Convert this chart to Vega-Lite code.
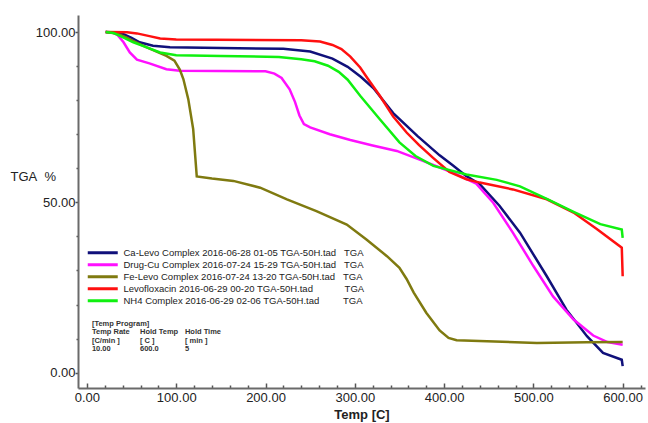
{
  "$schema": "https://vega.github.io/schema/vega-lite/v6.json",
  "width": 567,
  "height": 373,
  "autosize": {"type": "none"},
  "padding": {"left": 78, "top": 15, "right": 3, "bottom": 35},
  "background": "white",
  "config": {
    "font": "Liberation Sans",
    "view": {"stroke": null},
    "axis": {"grid": false, "domainColor": "#6a6a6a", "domainWidth": 2, "tickColor": "#555", "labelColor": "#222", "titleColor": "#222", "labelFont": "Liberation Sans", "titleFont": "Liberation Sans", "labelOverlap": false, "labelFlush": false}
  },
  "datasets": {
    "curves": [
      {"s": "Ca-Levo Complex 2016-06-28 01-05 TGA-50H.tad", "T": 21, "w": 100},
      {"s": "Ca-Levo Complex 2016-06-28 01-05 TGA-50H.tad", "T": 32, "w": 99.9},
      {"s": "Ca-Levo Complex 2016-06-28 01-05 TGA-50H.tad", "T": 41, "w": 99.4},
      {"s": "Ca-Levo Complex 2016-06-28 01-05 TGA-50H.tad", "T": 50, "w": 98.3},
      {"s": "Ca-Levo Complex 2016-06-28 01-05 TGA-50H.tad", "T": 59, "w": 97},
      {"s": "Ca-Levo Complex 2016-06-28 01-05 TGA-50H.tad", "T": 74, "w": 96},
      {"s": "Ca-Levo Complex 2016-06-28 01-05 TGA-50H.tad", "T": 93, "w": 95.5},
      {"s": "Ca-Levo Complex 2016-06-28 01-05 TGA-50H.tad", "T": 150, "w": 95.3},
      {"s": "Ca-Levo Complex 2016-06-28 01-05 TGA-50H.tad", "T": 220, "w": 95.1},
      {"s": "Ca-Levo Complex 2016-06-28 01-05 TGA-50H.tad", "T": 250, "w": 94.3},
      {"s": "Ca-Levo Complex 2016-06-28 01-05 TGA-50H.tad", "T": 275, "w": 92.2},
      {"s": "Ca-Levo Complex 2016-06-28 01-05 TGA-50H.tad", "T": 292, "w": 89.8},
      {"s": "Ca-Levo Complex 2016-06-28 01-05 TGA-50H.tad", "T": 307, "w": 86.8},
      {"s": "Ca-Levo Complex 2016-06-28 01-05 TGA-50H.tad", "T": 321, "w": 83.5},
      {"s": "Ca-Levo Complex 2016-06-28 01-05 TGA-50H.tad", "T": 343, "w": 76.2},
      {"s": "Ca-Levo Complex 2016-06-28 01-05 TGA-50H.tad", "T": 370, "w": 69.5},
      {"s": "Ca-Levo Complex 2016-06-28 01-05 TGA-50H.tad", "T": 395, "w": 63.8},
      {"s": "Ca-Levo Complex 2016-06-28 01-05 TGA-50H.tad", "T": 410, "w": 60.8},
      {"s": "Ca-Levo Complex 2016-06-28 01-05 TGA-50H.tad", "T": 425, "w": 57.7},
      {"s": "Ca-Levo Complex 2016-06-28 01-05 TGA-50H.tad", "T": 440, "w": 55.3},
      {"s": "Ca-Levo Complex 2016-06-28 01-05 TGA-50H.tad", "T": 462, "w": 49},
      {"s": "Ca-Levo Complex 2016-06-28 01-05 TGA-50H.tad", "T": 485, "w": 41.1},
      {"s": "Ca-Levo Complex 2016-06-28 01-05 TGA-50H.tad", "T": 515, "w": 28.3},
      {"s": "Ca-Levo Complex 2016-06-28 01-05 TGA-50H.tad", "T": 537, "w": 18.5},
      {"s": "Ca-Levo Complex 2016-06-28 01-05 TGA-50H.tad", "T": 560, "w": 10.7},
      {"s": "Ca-Levo Complex 2016-06-28 01-05 TGA-50H.tad", "T": 578, "w": 5.8},
      {"s": "Ca-Levo Complex 2016-06-28 01-05 TGA-50H.tad", "T": 599, "w": 3.8},
      {"s": "Ca-Levo Complex 2016-06-28 01-05 TGA-50H.tad", "T": 600, "w": 1.9},

      {"s": "Drug-Cu Complex 2016-07-24 15-29 TGA-50H.tad", "T": 21, "w": 100},
      {"s": "Drug-Cu Complex 2016-07-24 15-29 TGA-50H.tad", "T": 29, "w": 99.8},
      {"s": "Drug-Cu Complex 2016-07-24 15-29 TGA-50H.tad", "T": 34, "w": 99.2},
      {"s": "Drug-Cu Complex 2016-07-24 15-29 TGA-50H.tad", "T": 41, "w": 97},
      {"s": "Drug-Cu Complex 2016-07-24 15-29 TGA-50H.tad", "T": 48, "w": 94},
      {"s": "Drug-Cu Complex 2016-07-24 15-29 TGA-50H.tad", "T": 56, "w": 91.9},
      {"s": "Drug-Cu Complex 2016-07-24 15-29 TGA-50H.tad", "T": 70, "w": 90.8},
      {"s": "Drug-Cu Complex 2016-07-24 15-29 TGA-50H.tad", "T": 89, "w": 89.1},
      {"s": "Drug-Cu Complex 2016-07-24 15-29 TGA-50H.tad", "T": 104, "w": 88.6},
      {"s": "Drug-Cu Complex 2016-07-24 15-29 TGA-50H.tad", "T": 200, "w": 88.5},
      {"s": "Drug-Cu Complex 2016-07-24 15-29 TGA-50H.tad", "T": 210, "w": 87.8},
      {"s": "Drug-Cu Complex 2016-07-24 15-29 TGA-50H.tad", "T": 218, "w": 86.5},
      {"s": "Drug-Cu Complex 2016-07-24 15-29 TGA-50H.tad", "T": 227, "w": 83.2},
      {"s": "Drug-Cu Complex 2016-07-24 15-29 TGA-50H.tad", "T": 233, "w": 79.5},
      {"s": "Drug-Cu Complex 2016-07-24 15-29 TGA-50H.tad", "T": 238, "w": 75.5},
      {"s": "Drug-Cu Complex 2016-07-24 15-29 TGA-50H.tad", "T": 243, "w": 73},
      {"s": "Drug-Cu Complex 2016-07-24 15-29 TGA-50H.tad", "T": 250, "w": 72},
      {"s": "Drug-Cu Complex 2016-07-24 15-29 TGA-50H.tad", "T": 272, "w": 70},
      {"s": "Drug-Cu Complex 2016-07-24 15-29 TGA-50H.tad", "T": 295, "w": 68.3},
      {"s": "Drug-Cu Complex 2016-07-24 15-29 TGA-50H.tad", "T": 320, "w": 66.7},
      {"s": "Drug-Cu Complex 2016-07-24 15-29 TGA-50H.tad", "T": 347, "w": 65.1},
      {"s": "Drug-Cu Complex 2016-07-24 15-29 TGA-50H.tad", "T": 377, "w": 62.1},
      {"s": "Drug-Cu Complex 2016-07-24 15-29 TGA-50H.tad", "T": 410, "w": 58.7},
      {"s": "Drug-Cu Complex 2016-07-24 15-29 TGA-50H.tad", "T": 436, "w": 55.5},
      {"s": "Drug-Cu Complex 2016-07-24 15-29 TGA-50H.tad", "T": 455, "w": 49.9},
      {"s": "Drug-Cu Complex 2016-07-24 15-29 TGA-50H.tad", "T": 477, "w": 41.1},
      {"s": "Drug-Cu Complex 2016-07-24 15-29 TGA-50H.tad", "T": 500, "w": 31.3},
      {"s": "Drug-Cu Complex 2016-07-24 15-29 TGA-50H.tad", "T": 522, "w": 22.4},
      {"s": "Drug-Cu Complex 2016-07-24 15-29 TGA-50H.tad", "T": 545, "w": 15.6},
      {"s": "Drug-Cu Complex 2016-07-24 15-29 TGA-50H.tad", "T": 567, "w": 10.9},
      {"s": "Drug-Cu Complex 2016-07-24 15-29 TGA-50H.tad", "T": 583, "w": 9},
      {"s": "Drug-Cu Complex 2016-07-24 15-29 TGA-50H.tad", "T": 600, "w": 8.2},

      {"s": "Fe-Levo Complex 2016-07-24 13-20 TGA-50H.tad", "T": 21, "w": 100},
      {"s": "Fe-Levo Complex 2016-07-24 13-20 TGA-50H.tad", "T": 33, "w": 99.6},
      {"s": "Fe-Levo Complex 2016-07-24 13-20 TGA-50H.tad", "T": 44, "w": 98.4},
      {"s": "Fe-Levo Complex 2016-07-24 13-20 TGA-50H.tad", "T": 55, "w": 97},
      {"s": "Fe-Levo Complex 2016-07-24 13-20 TGA-50H.tad", "T": 67, "w": 95.5},
      {"s": "Fe-Levo Complex 2016-07-24 13-20 TGA-50H.tad", "T": 89, "w": 93},
      {"s": "Fe-Levo Complex 2016-07-24 13-20 TGA-50H.tad", "T": 98, "w": 91.6},
      {"s": "Fe-Levo Complex 2016-07-24 13-20 TGA-50H.tad", "T": 104, "w": 89},
      {"s": "Fe-Levo Complex 2016-07-24 13-20 TGA-50H.tad", "T": 108, "w": 86.2},
      {"s": "Fe-Levo Complex 2016-07-24 13-20 TGA-50H.tad", "T": 113.5, "w": 80.3},
      {"s": "Fe-Levo Complex 2016-07-24 13-20 TGA-50H.tad", "T": 119, "w": 71.5},
      {"s": "Fe-Levo Complex 2016-07-24 13-20 TGA-50H.tad", "T": 123, "w": 57.6},
      {"s": "Fe-Levo Complex 2016-07-24 13-20 TGA-50H.tad", "T": 140, "w": 57},
      {"s": "Fe-Levo Complex 2016-07-24 13-20 TGA-50H.tad", "T": 164, "w": 56.3},
      {"s": "Fe-Levo Complex 2016-07-24 13-20 TGA-50H.tad", "T": 194, "w": 54.3},
      {"s": "Fe-Levo Complex 2016-07-24 13-20 TGA-50H.tad", "T": 224, "w": 50.9},
      {"s": "Fe-Levo Complex 2016-07-24 13-20 TGA-50H.tad", "T": 257, "w": 47.4},
      {"s": "Fe-Levo Complex 2016-07-24 13-20 TGA-50H.tad", "T": 291, "w": 43.5},
      {"s": "Fe-Levo Complex 2016-07-24 13-20 TGA-50H.tad", "T": 313, "w": 39.1},
      {"s": "Fe-Levo Complex 2016-07-24 13-20 TGA-50H.tad", "T": 336, "w": 34.2},
      {"s": "Fe-Levo Complex 2016-07-24 13-20 TGA-50H.tad", "T": 350, "w": 30.8},
      {"s": "Fe-Levo Complex 2016-07-24 13-20 TGA-50H.tad", "T": 358, "w": 27.5},
      {"s": "Fe-Levo Complex 2016-07-24 13-20 TGA-50H.tad", "T": 366, "w": 23.5},
      {"s": "Fe-Levo Complex 2016-07-24 13-20 TGA-50H.tad", "T": 380, "w": 17.6},
      {"s": "Fe-Levo Complex 2016-07-24 13-20 TGA-50H.tad", "T": 395, "w": 12.4},
      {"s": "Fe-Levo Complex 2016-07-24 13-20 TGA-50H.tad", "T": 405, "w": 10.2},
      {"s": "Fe-Levo Complex 2016-07-24 13-20 TGA-50H.tad", "T": 414, "w": 9.5},
      {"s": "Fe-Levo Complex 2016-07-24 13-20 TGA-50H.tad", "T": 448, "w": 9.2},
      {"s": "Fe-Levo Complex 2016-07-24 13-20 TGA-50H.tad", "T": 504, "w": 8.7},
      {"s": "Fe-Levo Complex 2016-07-24 13-20 TGA-50H.tad", "T": 560, "w": 8.9},
      {"s": "Fe-Levo Complex 2016-07-24 13-20 TGA-50H.tad", "T": 600, "w": 9},

      {"s": "Levofloxacin 2016-06-29 00-20 TGA-50H.tad", "T": 21, "w": 100},
      {"s": "Levofloxacin 2016-06-29 00-20 TGA-50H.tad", "T": 45, "w": 99.9},
      {"s": "Levofloxacin 2016-06-29 00-20 TGA-50H.tad", "T": 56, "w": 99.6},
      {"s": "Levofloxacin 2016-06-29 00-20 TGA-50H.tad", "T": 70, "w": 98.8},
      {"s": "Levofloxacin 2016-06-29 00-20 TGA-50H.tad", "T": 82, "w": 98.1},
      {"s": "Levofloxacin 2016-06-29 00-20 TGA-50H.tad", "T": 100, "w": 97.8},
      {"s": "Levofloxacin 2016-06-29 00-20 TGA-50H.tad", "T": 240, "w": 97.6},
      {"s": "Levofloxacin 2016-06-29 00-20 TGA-50H.tad", "T": 261, "w": 97.2},
      {"s": "Levofloxacin 2016-06-29 00-20 TGA-50H.tad", "T": 275, "w": 96.2},
      {"s": "Levofloxacin 2016-06-29 00-20 TGA-50H.tad", "T": 285, "w": 95},
      {"s": "Levofloxacin 2016-06-29 00-20 TGA-50H.tad", "T": 295, "w": 92.8},
      {"s": "Levofloxacin 2016-06-29 00-20 TGA-50H.tad", "T": 306, "w": 89.6},
      {"s": "Levofloxacin 2016-06-29 00-20 TGA-50H.tad", "T": 314, "w": 86.5},
      {"s": "Levofloxacin 2016-06-29 00-20 TGA-50H.tad", "T": 328, "w": 81.3},
      {"s": "Levofloxacin 2016-06-29 00-20 TGA-50H.tad", "T": 343, "w": 75.2},
      {"s": "Levofloxacin 2016-06-29 00-20 TGA-50H.tad", "T": 358, "w": 70.5},
      {"s": "Levofloxacin 2016-06-29 00-20 TGA-50H.tad", "T": 372, "w": 66.8},
      {"s": "Levofloxacin 2016-06-29 00-20 TGA-50H.tad", "T": 388, "w": 63},
      {"s": "Levofloxacin 2016-06-29 00-20 TGA-50H.tad", "T": 406, "w": 58.9},
      {"s": "Levofloxacin 2016-06-29 00-20 TGA-50H.tad", "T": 425, "w": 56.8},
      {"s": "Levofloxacin 2016-06-29 00-20 TGA-50H.tad", "T": 440, "w": 55.8},
      {"s": "Levofloxacin 2016-06-29 00-20 TGA-50H.tad", "T": 477, "w": 53.8},
      {"s": "Levofloxacin 2016-06-29 00-20 TGA-50H.tad", "T": 515, "w": 50.9},
      {"s": "Levofloxacin 2016-06-29 00-20 TGA-50H.tad", "T": 545, "w": 47},
      {"s": "Levofloxacin 2016-06-29 00-20 TGA-50H.tad", "T": 571, "w": 42.2},
      {"s": "Levofloxacin 2016-06-29 00-20 TGA-50H.tad", "T": 599, "w": 36.7},
      {"s": "Levofloxacin 2016-06-29 00-20 TGA-50H.tad", "T": 600, "w": 28.3},

      {"s": "NH4 Complex 2016-06-29 02-06 TGA-50H.tad", "T": 21, "w": 100},
      {"s": "NH4 Complex 2016-06-29 02-06 TGA-50H.tad", "T": 30, "w": 99.7},
      {"s": "NH4 Complex 2016-06-29 02-06 TGA-50H.tad", "T": 37, "w": 98.9},
      {"s": "NH4 Complex 2016-06-29 02-06 TGA-50H.tad", "T": 52, "w": 97},
      {"s": "NH4 Complex 2016-06-29 02-06 TGA-50H.tad", "T": 67, "w": 95.5},
      {"s": "NH4 Complex 2016-06-29 02-06 TGA-50H.tad", "T": 82, "w": 94},
      {"s": "NH4 Complex 2016-06-29 02-06 TGA-50H.tad", "T": 100, "w": 93.2},
      {"s": "NH4 Complex 2016-06-29 02-06 TGA-50H.tad", "T": 150, "w": 93},
      {"s": "NH4 Complex 2016-06-29 02-06 TGA-50H.tad", "T": 215, "w": 92.7},
      {"s": "NH4 Complex 2016-06-29 02-06 TGA-50H.tad", "T": 240, "w": 92},
      {"s": "NH4 Complex 2016-06-29 02-06 TGA-50H.tad", "T": 255, "w": 91.4},
      {"s": "NH4 Complex 2016-06-29 02-06 TGA-50H.tad", "T": 270, "w": 90.1},
      {"s": "NH4 Complex 2016-06-29 02-06 TGA-50H.tad", "T": 282, "w": 88.3},
      {"s": "NH4 Complex 2016-06-29 02-06 TGA-50H.tad", "T": 292, "w": 86},
      {"s": "NH4 Complex 2016-06-29 02-06 TGA-50H.tad", "T": 306, "w": 81.3},
      {"s": "NH4 Complex 2016-06-29 02-06 TGA-50H.tad", "T": 328, "w": 74.4},
      {"s": "NH4 Complex 2016-06-29 02-06 TGA-50H.tad", "T": 350, "w": 67.6},
      {"s": "NH4 Complex 2016-06-29 02-06 TGA-50H.tad", "T": 368, "w": 63.6},
      {"s": "NH4 Complex 2016-06-29 02-06 TGA-50H.tad", "T": 388, "w": 60.7},
      {"s": "NH4 Complex 2016-06-29 02-06 TGA-50H.tad", "T": 425, "w": 58.2},
      {"s": "NH4 Complex 2016-06-29 02-06 TGA-50H.tad", "T": 459, "w": 56.6},
      {"s": "NH4 Complex 2016-06-29 02-06 TGA-50H.tad", "T": 485, "w": 54.7},
      {"s": "NH4 Complex 2016-06-29 02-06 TGA-50H.tad", "T": 515, "w": 51},
      {"s": "NH4 Complex 2016-06-29 02-06 TGA-50H.tad", "T": 545, "w": 47.2},
      {"s": "NH4 Complex 2016-06-29 02-06 TGA-50H.tad", "T": 575, "w": 43.6},
      {"s": "NH4 Complex 2016-06-29 02-06 TGA-50H.tad", "T": 599, "w": 42},
      {"s": "NH4 Complex 2016-06-29 02-06 TGA-50H.tad", "T": 600, "w": 39.6}
    ],
    "notes": [
      {"T": 5.6, "w": 14.4, "txt": "[Temp Program]"},
      {"T": 5.6, "w": 11.9, "txt": "Temp Rate"},
      {"T": 59.4, "w": 11.9, "txt": "Hold Temp"},
      {"T": 109.7, "w": 11.9, "txt": "Hold Time"},
      {"T": 5.6, "w": 9.4, "txt": "[C/min ]"},
      {"T": 59.4, "w": 9.4, "txt": "[ C ]"},
      {"T": 109.7, "w": 9.4, "txt": "[ min ]"},
      {"T": 5.6, "w": 7.0, "txt": "10.00"},
      {"T": 59.4, "w": 7.0, "txt": "600.0"},
      {"T": 109.7, "w": 7.0, "txt": "5"}
    ]
  },
  "encoding": {
    "x": {
      "field": "T", "type": "quantitative",
      "scale": {"domain": [-10, 625], "nice": false, "zero": false},
      "axis": {
        "title": "Temp  [C]", "titleFontSize": 13, "titleFontWeight": "bold", "titlePadding": 2,
        "values": [0, 20, 40, 60, 80, 100, 120, 140, 160, 180, 200, 220, 240, 260, 280, 300, 320, 340, 360, 380, 400, 420, 440, 460, 480, 500, 520, 540, 560, 580, 600, 620],
        "labelExpr": "datum.value % 100 === 0 ? format(datum.value, '.2f') : ''",
        "labelOverlap": false, "labelFlush": false,
        "labelFontSize": 13, "labelPadding": 8,
        "tickSize": {"condition": {"test": "datum.value % 100 === 0", "value": -5}, "value": -3},
        "tickWidth": 1.5
      }
    },
    "y": {
      "field": "w", "type": "quantitative",
      "scale": {"domain": [-4.5, 105], "nice": false, "zero": false},
      "axis": {
        "title": "TGA\u00a0\u00a0%", "titleAngle": 0, "titleAlign": "left", "titleBaseline": "middle",
        "titleX": -68, "titleY": 161, "titleFontSize": 13, "titleFontWeight": "normal",
        "values": [0, 10, 20, 30, 40, 50, 60, 70, 80, 90, 100],
        "labelExpr": "datum.value % 50 === 0 ? format(datum.value, '.2f') : ''",
        "labelOverlap": false, "labelFlush": false,
        "labelFontSize": 13, "labelPadding": 0,
        "tickSize": {"condition": {"test": "datum.value % 50 === 0", "value": 3}, "value": 2},
        "tickWidth": 1.5
      }
    }
  },
  "layer": [
    {
      "data": {"name": "curves"},
      "mark": {"type": "line", "strokeWidth": 2.5, "clip": true},
      "encoding": {
        "color": {
          "field": "s", "type": "nominal",
          "scale": {
            "domain": ["Ca-Levo Complex 2016-06-28 01-05 TGA-50H.tad", "Drug-Cu Complex 2016-07-24 15-29 TGA-50H.tad", "Fe-Levo Complex 2016-07-24 13-20 TGA-50H.tad", "Levofloxacin 2016-06-29 00-20 TGA-50H.tad", "NH4 Complex 2016-06-29 02-06 TGA-50H.tad"],
            "range": ["#10107a", "#ff10ff", "#7f7a10", "#ff1010", "#10f010"]
          },
          "legend": {
            "orient": "none", "legendX": 8, "legendY": 233, "title": null,
            "symbolType": "M-1,0H9", "symbolSize": 36, "symbolStrokeWidth": 3,
            "labelFontSize": 9.5, "labelColor": "#222", "labelOffset": 28, "labelLimit": 400,
            "clipHeight": 9.25, "rowPadding": 1, "padding": 0,
            "labelExpr": "datum.label + (test(/^Levo/, datum.label) ? '\u00a0\u00a0\u00a0\u00a0\u00a0\u00a0\u00a0\u00a0\u00a0\u00a0\u00a0\u00a0' : test(/^NH4/, datum.label) ? '\u00a0\u00a0\u00a0\u00a0\u00a0\u00a0\u00a0\u00a0\u00a0' : '\u00a0\u00a0\u00a0') + 'TGA'"
          }
        }
      }
    },
    {
      "data": {"name": "notes"},
      "mark": {"type": "text", "align": "left", "baseline": "middle", "fontSize": 7.5, "fontWeight": "bold", "color": "#333"},
      "encoding": {
        "text": {"field": "txt"}
      }
    }
  ]
}
